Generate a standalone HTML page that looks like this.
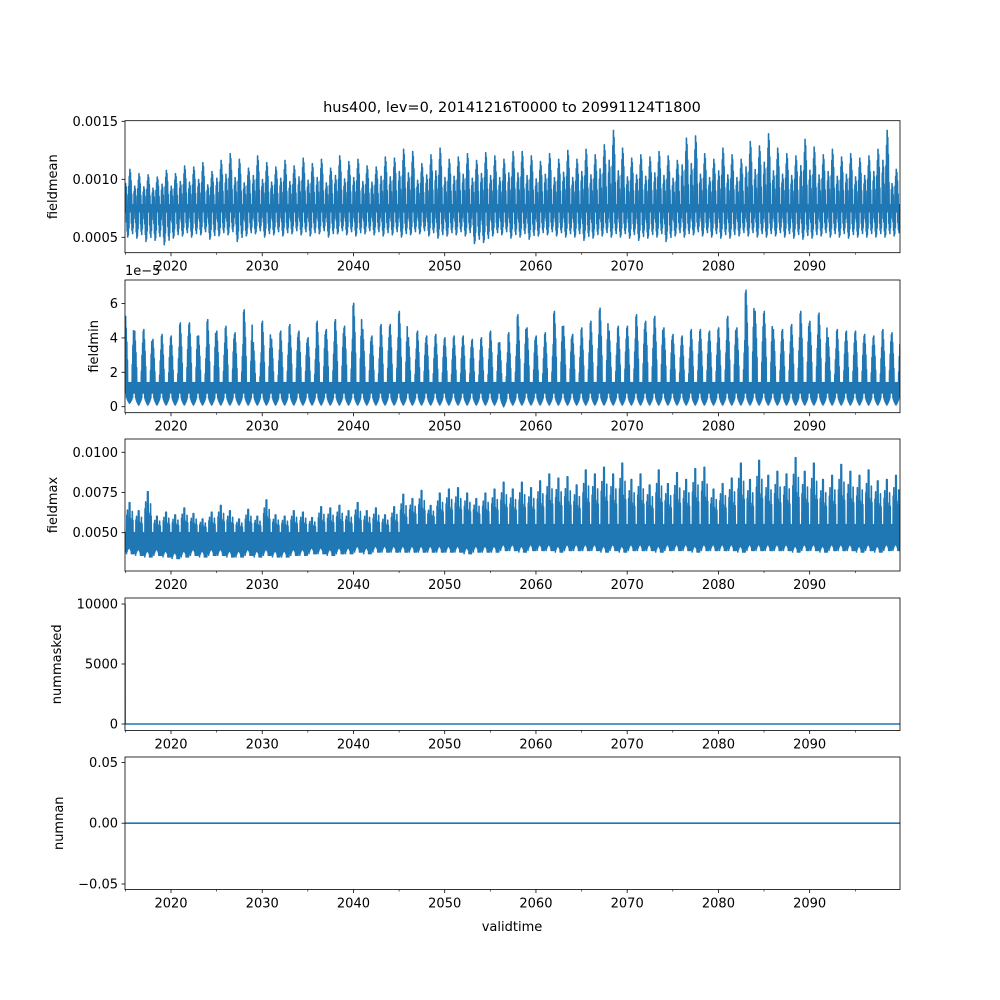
<!DOCTYPE html>
<html><head><meta charset="utf-8">
<style>
html,body{margin:0;padding:0;background:#fff;}
svg{display:block;font-family:"DejaVu Sans","Liberation Sans",sans-serif;}
</style></head>
<body>
<svg id="fig" width="1000" height="1000" viewBox="0 0 1000 1000">
<text x="512" y="112" text-anchor="middle" font-size="14.5">hus400, lev=0, 20141216T0000 to 20991124T1800</text>
<text x="512" y="931" text-anchor="middle" font-size="13">validtime</text>
</svg>
<script>
// ---- data (per-year values, 2015..2099) ----
const years = Array.from({length:85},(_, i)=>2015+i);
const meanPeaks = [11.0,10.6,10.5,10.3,10.9,10.6,11.3,11.2,11.6,10.8,11.8,12.4,11.9,11.1,12.2,11.6,11.2,11.8,11.3,12.0,11.5,11.9,11.1,12.2,11.7,11.9,11.3,11.2,12.1,12.0,12.8,12.6,11.5,12.3,12.9,11.9,12.1,12.4,11.8,12.5,12.2,11.9,12.6,12.6,12.2,11.7,12.4,11.9,12.7,11.9,12.8,12.3,13.2,14.5,12.9,12.0,12.3,12.1,12.6,12.2,11.8,13.8,14.0,12.4,11.9,12.9,12.3,11.9,13.5,13.1,14.2,12.9,12.4,12.2,13.7,13.0,12.3,12.8,12.1,12.4,12.0,12.2,12.8,14.5,11.0];
const meanTroughs = [4.9,4.8,4.5,4.6,4.2,4.8,5.0,4.9,5.1,4.7,5.0,5.1,4.5,5.0,5.2,4.9,5.1,5.0,5.2,5.1,5.0,5.2,4.9,5.2,5.1,5.0,5.2,5.1,5.0,5.1,4.9,5.1,5.2,5.0,4.8,5.0,5.1,5.0,4.3,4.4,5.0,5.1,4.8,4.9,4.7,5.0,5.1,5.0,4.9,4.9,4.6,4.8,5.0,4.9,4.9,4.8,4.6,4.8,4.9,4.5,5.0,4.9,5.1,5.0,4.9,4.8,4.8,5.0,5.0,4.9,4.9,5.0,4.9,4.8,4.7,4.8,5.0,4.9,4.9,4.8,4.9,4.9,4.9,4.9,5.0];
const minPeaks = [5.5,4.6,4.7,4.1,4.4,4.3,5.1,5.1,4.3,5.3,4.6,4.9,4.5,5.9,3.9,5.2,4.1,4.6,5.0,4.6,4.2,5.2,4.7,5.3,4.9,6.3,4.7,4.3,5.0,5.0,5.8,4.2,4.6,4.3,4.4,4.2,4.3,4.3,4.1,4.2,4.6,3.9,4.5,5.6,4.8,4.3,4.5,5.8,4.9,4.4,4.8,5.2,6.0,4.6,4.9,4.9,5.6,5.2,5.5,4.8,4.4,4.3,4.7,4.7,4.6,4.8,5.5,4.8,7.1,5.8,5.8,4.7,4.7,5.0,5.8,5.2,5.7,4.2,4.7,4.6,4.6,4.4,4.3,4.7,4.5];
const minTroughs = [0.2,0.1,0.1,0.1,0.1,0.1,0.1,0.1,0.1,0.1,0.1,0.1,0.1,0.1,0.1,0.1,0.1,0.1,0.1,0.1,0.1,0.1,0.1,0.1,0.1,0.1,0.1,0.1,0.1,0.1,0.1,0.1,0.1,0.1,0.1,0.1,0.1,0.1,0.1,0.1,0.1,0.0,0.1,0.1,0.1,0.1,0.1,0.1,0.1,0.1,0.1,0.1,0.1,0.1,0.1,0.1,0.1,0.1,0.1,0.1,0.1,0.1,0.1,0.1,0.1,0.1,0.1,0.1,0.1,0.1,0.1,0.1,0.1,0.1,0.1,0.1,0.1,0.1,0.1,0.1,0.1,0.1,0.1,0.1,0.1];
const maxPeaks = [72,66,80,62,65,63,68,64,60,65,70,66,60,67,62,74,63,62,66,65,61,69,68,70,66,72,66,68,63,69,78,74,80,69,78,81,82,78,74,78,81,86,81,86,82,87,92,89,90,84,95,92,97,92,100,88,92,84,95,85,93,88,96,97,81,85,89,100,88,102,91,94,92,104,94,100,88,91,99,94,91,95,87,88,91];
const maxLows = [37,36,35,36,35,34,35,36,35,36,36,35,35,36,35,36,35,35,36,36,37,37,36,37,37,38,37,38,38,38,38,38,38,38,38,38,38,37,38,38,38,39,39,38,39,39,39,38,39,39,39,39,38,39,38,39,39,39,38,39,39,39,38,39,39,39,39,38,39,39,39,39,39,38,39,39,38,39,39,39,38,39,38,39,39];
const maskedVals = [10000,0,0];
const xTicks = [2020,2030,2040,2050,2060,2070,2080,2090];
const xMinor = [2015,2025,2035,2045,2055,2065,2075,2085,2095];
const meanTicks = [0.0005,0.0010,0.0015], meanTickLabels = ["0.0005","0.0010","0.0015"];
const minTicks = [0,2,4,6], minTickLabels = ["0","2","4","6"];
const maxTicks = [0.0050,0.0075,0.0100], maxTickLabels = ["0.0050","0.0075","0.0100"];
const maskTicks = [0,5000,10000], maskTickLabels = ["0","5000","10000"];
const nanTicks = [-0.05,0,0.05], nanTickLabels = ["\u22120.05","0.00","0.05"];

const NS="http://www.w3.org/2000/svg";
const svg=document.getElementById('fig');
const L=125,R=900;
const T0=2014.96,T1=2099.9;
const xs=t=>L+(t-T0)/(T1-T0)*(R-L);
function mk(tag,attrs,parent){const e=document.createElementNS(NS,tag);for(const k in attrs)e.setAttribute(k,attrs[k]);(parent||svg).appendChild(e);return e;}

function panel(name,top,bottom,v0,y0,v1,y1,ticks,labels,ylabel){
  const g=mk('g',{});
  
  
  const ys=v=>y0+(v-v0)*(y1-y0)/(v1-v0);
  const clipId='clip-'+name;
  const cp=mk('clipPath',{id:clipId},g);mk('rect',{x:L,y:top,width:R-L,height:bottom-top},cp);
  const plot=mk('g',{'clip-path':'url(#'+clipId+')'},g);
  ticks.forEach((v,i)=>{const y=ys(v);
    const tk=mk('line',{x1:L-3.5,x2:L,y1:y,y2:y,stroke:'#000','stroke-width':0.8},g);
    
    
    const tx=mk('text',{x:L-7,y:y+4.5,'text-anchor':'end','font-size':13},g);tx.textContent=labels[i];
    
    
  });
  xTicks.forEach(t=>{const x=xs(t);
    mk('line',{x1:x,x2:x,y1:bottom,y2:bottom+3.5,stroke:'#000','stroke-width':0.8},g);
    const tx=mk('text',{x:x,y:bottom+18,'text-anchor':'middle','font-size':13},g);tx.textContent=t;
    
    
  });
  xMinor.forEach(t=>{const x=xs(t);mk('line',{x1:x,x2:x,y1:bottom,y2:bottom+2,stroke:'#000','stroke-width':0.6},g);});
  const yl=mk('text',{x:0,y:0,'text-anchor':'middle','font-size':13,transform:`translate(${ylabel.x},${(top+bottom)/2}) rotate(-90)`},g);
  yl.textContent=ylabel.text;
  
  
  return {g,plot,ys,top,bottom};
}
function frame(p){const r=mk('rect',{x:L,y:p.top,width:R-L,height:p.bottom-p.top,fill:'none',stroke:'#000','stroke-width':0.8},p.g);
  
  }
function drawLine(p,pts,name){
  const d='M'+pts.map(q=>q[0].toFixed(2)+','+q[1].toFixed(2)).join('L');
  const path=mk('path',{d,fill:'none',stroke:'#1f77b4','stroke-width':1.6,'stroke-linejoin':'round'},p.plot);
  
  
}
const N=30;
const bump=(f,c,w)=>{const b=Math.max(0,1-Math.abs(f-c)/w);return Math.sqrt(b);};

// Panel 1: fieldmean
const p1=panel('fieldmean',120.7,252.7,0.0010,179.3,0.0005,237.3,meanTicks,meanTickLabels,{x:57,text:'fieldmean'});
{const pts=[];years.forEach((yr,i)=>{const pk=meanPeaks[i]*1e-4,tr=meanTroughs[i]*1e-4;
  for(let k=0;k<N;k++){const f=k/N,t=yr-0.04+f;if(t<T0)continue;
    const top=0.00078+(pk-0.00078)*Math.max(bump(f,0.55,0.2),0.6*bump(f,0.08,0.15));
    const low=0.00072-(0.00072-tr)*Math.max(bump(f,0.32,0.18),0.85*bump(f,0.82,0.16));
    pts.push([xs(t),p1.ys(k%2?low:top)]);}});
  drawLine(p1,pts,'fieldmean-line');}
frame(p1);

// Panel 2: fieldmin
const p2=panel('fieldmin',280,412.7,0,406.7,6,303.5,minTicks,minTickLabels,{x:98,text:'fieldmin'});
{const pts=[];years.forEach((yr,i)=>{const pk=minPeaks[i],tr=minTroughs[i];
  for(let k=0;k<N;k++){const f=k/N,t=yr-0.04+f;if(t<T0)continue;
    const top=Math.max(1.4,pk*Math.max(bump(f,0.04,0.3),bump(f,1.04,0.3)));
    const low=0.8-(0.8-tr)*bump(f,0.5,0.4);
    pts.push([xs(t),p2.ys(k%2?low:top)]);}});
  drawLine(p2,pts,'fieldmin-line');}
frame(p2);
{const o=mk('text',{x:125,y:275,'font-size':13},p2.g);o.textContent='1e\u22125';
 
 }

// Panel 3: fieldmax
const p3=panel('fieldmax',439,571,0.0050,532.7,0.0100,452.3,maxTicks,maxTickLabels,{x:57,text:'fieldmax'});
{const pts=[];years.forEach((yr,i)=>{const pk=maxPeaks[i]*1e-4,lo=maxLows[i]*1e-4;
  const base=0.0050+(i>30?0.0005:0);
  for(let k=0;k<N;k++){const f=k/N,t=yr-0.04+f;if(t<T0)continue;
    const top=base+(pk-base)*Math.max(bump(f,0.5,0.12),0.7*bump(f,0.25,0.1),0.6*bump(f,0.8,0.1));
    const low=lo+0.0004*Math.max(bump(f,0.45,0.25),0.5*bump(f,0.0,0.15));
    pts.push([xs(t),p3.ys(k%2?low:top)]);}});
  drawLine(p3,pts,'fieldmax-line');}
frame(p3);

// Panel 4: nummasked
const p4=panel('nummasked',598,730.5,0,724,10000,604,maskTicks,maskTickLabels,{x:61,text:'nummasked'});
{const tm=[T0,T0+0.01,T1];drawLine(p4,maskedVals.map((v,i)=>[xs(tm[i]),p4.ys(v)]),'nummasked-line');}
frame(p4);

// Panel 5: numnan
const p5=panel('numnan',757,889.5,0,823.2,0.05,762.4,nanTicks,nanTickLabels,{x:63,text:'numnan'});
drawLine(p5,[[xs(T0),p5.ys(0)],[xs(T1),p5.ys(0)]],'numnan-line');
frame(p5);
</script>
</body></html>
